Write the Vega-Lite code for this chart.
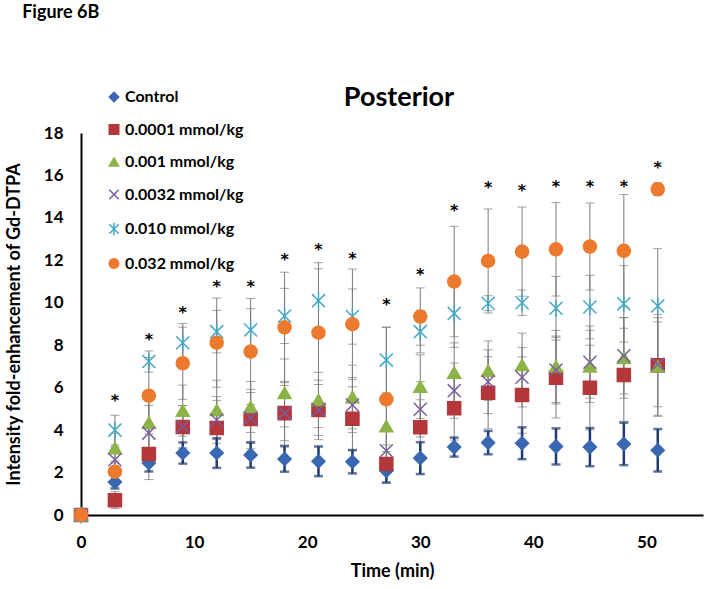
{
  "$schema": "https://vega.github.io/schema/vega-lite/v6.json",
  "width": 622,
  "height": 382,
  "autosize": "none",
  "padding": {"left": 81, "top": 133, "right": 8, "bottom": 74},
  "background": "white",
  "config": {
    "font": "Lato",
    "view": {"stroke": null},
    "axis": {"domainColor": "black", "domainWidth": 2, "ticks": false, "grid": false, "labelFont": "Lato", "labelFontSize": 17, "labelFontWeight": "bold", "labelColor": "black", "titleFont": "Lato", "titleFontSize": 18, "titleFontWeight": "bold", "titleColor": "black"},
    "axisX": {"labelPadding": 19, "titlePadding": 12, "labelFlush": false},
    "axisY": {"labelPadding": 18, "titlePadding": 20}
  },
  "title": {"text": "Posterior", "font": "Lato", "fontSize": 27, "fontWeight": "bold", "color": "black", "anchor": "middle", "dx": 7, "offset": -108},
  "datasets": {
    "pts": [
      {"series": "Control", "t": 0, "mean": 0, "sd": 0},
      {"series": "Control", "t": 3, "mean": 1.55, "sd": 0.3},
      {"series": "Control", "t": 6, "mean": 2.45, "sd": 0.4},
      {"series": "Control", "t": 9, "mean": 2.92, "sd": 0.5},
      {"series": "Control", "t": 12, "mean": 2.92, "sd": 0.7},
      {"series": "Control", "t": 15, "mean": 2.83, "sd": 0.6},
      {"series": "Control", "t": 18, "mean": 2.64, "sd": 0.6},
      {"series": "Control", "t": 21, "mean": 2.53, "sd": 0.7},
      {"series": "Control", "t": 24, "mean": 2.51, "sd": 0.55},
      {"series": "Control", "t": 27, "mean": 2.08, "sd": 0.55},
      {"series": "Control", "t": 30, "mean": 2.68, "sd": 0.75},
      {"series": "Control", "t": 33, "mean": 3.2, "sd": 0.45},
      {"series": "Control", "t": 36, "mean": 3.41, "sd": 0.55},
      {"series": "Control", "t": 39, "mean": 3.38, "sd": 0.75},
      {"series": "Control", "t": 42, "mean": 3.23, "sd": 0.85},
      {"series": "Control", "t": 45, "mean": 3.2, "sd": 0.9},
      {"series": "Control", "t": 48, "mean": 3.35, "sd": 1.0},
      {"series": "Control", "t": 51, "mean": 3.05, "sd": 1.0},
      {"series": "0.0001 mmol/kg", "t": 0, "mean": 0, "sd": 0},
      {"series": "0.0001 mmol/kg", "t": 3, "mean": 0.7, "sd": 0.4},
      {"series": "0.0001 mmol/kg", "t": 6, "mean": 2.87, "sd": 1.2},
      {"series": "0.0001 mmol/kg", "t": 9, "mean": 4.15, "sd": 1.0},
      {"series": "0.0001 mmol/kg", "t": 12, "mean": 4.1, "sd": 1.3},
      {"series": "0.0001 mmol/kg", "t": 15, "mean": 4.52, "sd": 1.4},
      {"series": "0.0001 mmol/kg", "t": 18, "mean": 4.8, "sd": 1.5},
      {"series": "0.0001 mmol/kg", "t": 21, "mean": 4.95, "sd": 1.4},
      {"series": "0.0001 mmol/kg", "t": 24, "mean": 4.54, "sd": 1.5},
      {"series": "0.0001 mmol/kg", "t": 27, "mean": 2.4, "sd": 0.9},
      {"series": "0.0001 mmol/kg", "t": 30, "mean": 4.13, "sd": 1.3},
      {"series": "0.0001 mmol/kg", "t": 33, "mean": 5.03, "sd": 1.5},
      {"series": "0.0001 mmol/kg", "t": 36, "mean": 5.76, "sd": 1.7},
      {"series": "0.0001 mmol/kg", "t": 39, "mean": 5.65, "sd": 1.8},
      {"series": "0.0001 mmol/kg", "t": 42, "mean": 6.47, "sd": 1.9},
      {"series": "0.0001 mmol/kg", "t": 45, "mean": 6.0, "sd": 2.0},
      {"series": "0.0001 mmol/kg", "t": 48, "mean": 6.6, "sd": 2.2},
      {"series": "0.0001 mmol/kg", "t": 51, "mean": 7.05, "sd": 2.4},
      {"series": "0.001 mmol/kg", "t": 0, "mean": 0, "sd": 0},
      {"series": "0.001 mmol/kg", "t": 3, "mean": 3.15, "sd": 0.7},
      {"series": "0.001 mmol/kg", "t": 6, "mean": 4.35, "sd": 1.5},
      {"series": "0.001 mmol/kg", "t": 9, "mean": 4.92, "sd": 1.2},
      {"series": "0.001 mmol/kg", "t": 12, "mean": 4.95, "sd": 1.4},
      {"series": "0.001 mmol/kg", "t": 15, "mean": 5.09, "sd": 1.2},
      {"series": "0.001 mmol/kg", "t": 18, "mean": 5.75, "sd": 1.6},
      {"series": "0.001 mmol/kg", "t": 21, "mean": 5.42, "sd": 1.3},
      {"series": "0.001 mmol/kg", "t": 24, "mean": 5.56, "sd": 1.5},
      {"series": "0.001 mmol/kg", "t": 27, "mean": 4.19, "sd": 1.2},
      {"series": "0.001 mmol/kg", "t": 30, "mean": 6.05, "sd": 1.5},
      {"series": "0.001 mmol/kg", "t": 33, "mean": 6.71, "sd": 1.4},
      {"series": "0.001 mmol/kg", "t": 36, "mean": 6.8, "sd": 1.4},
      {"series": "0.001 mmol/kg", "t": 39, "mean": 7.07, "sd": 1.5},
      {"series": "0.001 mmol/kg", "t": 42, "mean": 7.0, "sd": 1.7},
      {"series": "0.001 mmol/kg", "t": 45, "mean": 7.0, "sd": 1.7},
      {"series": "0.001 mmol/kg", "t": 48, "mean": 7.4, "sd": 1.9},
      {"series": "0.001 mmol/kg", "t": 51, "mean": 7.0, "sd": 2.3},
      {"series": "0.0032 mmol/kg", "t": 0, "mean": 0, "sd": 0},
      {"series": "0.0032 mmol/kg", "t": 3, "mean": 2.6, "sd": 0.6},
      {"series": "0.0032 mmol/kg", "t": 6, "mean": 3.86, "sd": 1.3},
      {"series": "0.0032 mmol/kg", "t": 9, "mean": 4.16, "sd": 1.0},
      {"series": "0.0032 mmol/kg", "t": 12, "mean": 4.48, "sd": 1.1},
      {"series": "0.0032 mmol/kg", "t": 15, "mean": 4.57, "sd": 1.2},
      {"series": "0.0032 mmol/kg", "t": 18, "mean": 4.8, "sd": 1.3},
      {"series": "0.0032 mmol/kg", "t": 21, "mean": 4.95, "sd": 1.2},
      {"series": "0.0032 mmol/kg", "t": 24, "mean": 5.18, "sd": 1.3},
      {"series": "0.0032 mmol/kg", "t": 27, "mean": 3.03, "sd": 1.0},
      {"series": "0.0032 mmol/kg", "t": 30, "mean": 4.98, "sd": 1.3},
      {"series": "0.0032 mmol/kg", "t": 33, "mean": 5.86, "sd": 1.3},
      {"series": "0.0032 mmol/kg", "t": 36, "mean": 6.28, "sd": 1.5},
      {"series": "0.0032 mmol/kg", "t": 39, "mean": 6.49, "sd": 1.4},
      {"series": "0.0032 mmol/kg", "t": 42, "mean": 6.83, "sd": 1.6},
      {"series": "0.0032 mmol/kg", "t": 45, "mean": 7.2, "sd": 1.7},
      {"series": "0.0032 mmol/kg", "t": 48, "mean": 7.5, "sd": 1.8},
      {"series": "0.0032 mmol/kg", "t": 51, "mean": 7.1, "sd": 2.0},
      {"series": "0.010 mmol/kg", "t": 0, "mean": 0, "sd": 0},
      {"series": "0.010 mmol/kg", "t": 3, "mean": 4.0, "sd": 0.7},
      {"series": "0.010 mmol/kg", "t": 6, "mean": 7.23, "sd": 0.5},
      {"series": "0.010 mmol/kg", "t": 9, "mean": 8.12, "sd": 0.9},
      {"series": "0.010 mmol/kg", "t": 12, "mean": 8.64, "sd": 1.0},
      {"series": "0.010 mmol/kg", "t": 15, "mean": 8.72, "sd": 1.0},
      {"series": "0.010 mmol/kg", "t": 18, "mean": 9.38, "sd": 1.3},
      {"series": "0.010 mmol/kg", "t": 21, "mean": 10.1, "sd": 1.5},
      {"series": "0.010 mmol/kg", "t": 24, "mean": 9.35, "sd": 1.3},
      {"series": "0.010 mmol/kg", "t": 27, "mean": 7.3, "sd": 1.55},
      {"series": "0.010 mmol/kg", "t": 30, "mean": 8.64, "sd": 1.0},
      {"series": "0.010 mmol/kg", "t": 33, "mean": 9.5, "sd": 1.6},
      {"series": "0.010 mmol/kg", "t": 36, "mean": 9.98, "sd": 0.35},
      {"series": "0.010 mmol/kg", "t": 39, "mean": 10.0, "sd": 0.6},
      {"series": "0.010 mmol/kg", "t": 42, "mean": 9.74, "sd": 1.5},
      {"series": "0.010 mmol/kg", "t": 45, "mean": 9.8, "sd": 1.5},
      {"series": "0.010 mmol/kg", "t": 48, "mean": 9.95, "sd": 1.8},
      {"series": "0.010 mmol/kg", "t": 51, "mean": 9.85, "sd": 2.7},
      {"series": "0.032 mmol/kg", "t": 0, "mean": 0, "sd": 0},
      {"series": "0.032 mmol/kg", "t": 3, "mean": 2.04, "sd": 0.5},
      {"series": "0.032 mmol/kg", "t": 6, "mean": 5.62, "sd": 1.8},
      {"series": "0.032 mmol/kg", "t": 9, "mean": 7.15, "sd": 1.7},
      {"series": "0.032 mmol/kg", "t": 12, "mean": 8.12, "sd": 2.1},
      {"series": "0.032 mmol/kg", "t": 15, "mean": 7.7, "sd": 2.5},
      {"series": "0.032 mmol/kg", "t": 18, "mean": 8.84, "sd": 2.6},
      {"series": "0.032 mmol/kg", "t": 21, "mean": 8.59, "sd": 3.3},
      {"series": "0.032 mmol/kg", "t": 24, "mean": 8.99, "sd": 2.6},
      {"series": "0.032 mmol/kg", "t": 27, "mean": 5.45, "sd": 3.4},
      {"series": "0.032 mmol/kg", "t": 30, "mean": 9.35, "sd": 1.35},
      {"series": "0.032 mmol/kg", "t": 33, "mean": 11.0, "sd": 2.6},
      {"series": "0.032 mmol/kg", "t": 36, "mean": 11.97, "sd": 2.45},
      {"series": "0.032 mmol/kg", "t": 39, "mean": 12.41, "sd": 2.1},
      {"series": "0.032 mmol/kg", "t": 42, "mean": 12.52, "sd": 2.2},
      {"series": "0.032 mmol/kg", "t": 45, "mean": 12.65, "sd": 2.05},
      {"series": "0.032 mmol/kg", "t": 48, "mean": 12.45, "sd": 2.65},
      {"series": "0.032 mmol/kg", "t": 51, "mean": 15.35, "sd": 0.3}
    ],
    "stars": [
      {"t": 3, "level": 5.5}, {"t": 6, "level": 8.4}, {"t": 9, "level": 9.66},
      {"t": 12, "level": 10.9}, {"t": 15, "level": 10.9}, {"t": 18, "level": 12.15},
      {"t": 21, "level": 12.64}, {"t": 24, "level": 12.2}, {"t": 27, "level": 10.05},
      {"t": 30, "level": 11.47}, {"t": 33, "level": 14.45}, {"t": 36, "level": 15.55},
      {"t": 39, "level": 15.42}, {"t": 42, "level": 15.6}, {"t": 45, "level": 15.6},
      {"t": 48, "level": 15.6}, {"t": 51, "level": 16.5}
    ]
  },
  "layer": [
    {
      "data": {"name": "pts"},
      "transform": [{"filter": "datum.series !== 'Control'"}],
      "mark": {"type": "errorbar", "ticks": true, "size": 9, "thickness": 1, "color": "#7a7a7a"},
      "encoding": {
        "x": {"field": "t", "type": "quantitative", "scale": {"domain": [0, 55], "nice": false}, "axis": {"values": [0, 10, 20, 30, 40, 50], "title": "Time (min)"}},
        "y": {"field": "mean", "type": "quantitative", "scale": {"domain": [0, 18], "nice": false}, "axis": {"values": [0, 2, 4, 6, 8, 10, 12, 14, 16, 18], "title": "Intensity fold-enhancement of Gd-DTPA"}},
        "yError": {"field": "sd"}
      }
    },
    {
      "data": {"name": "pts"},
      "transform": [{"filter": "datum.series === 'Control'"}],
      "mark": {"type": "errorbar", "ticks": true, "size": 9, "thickness": 2.5, "color": "#1f3a72"},
      "encoding": {
        "x": {"field": "t", "type": "quantitative", "axis": {"values": [0, 10, 20, 30, 40, 50], "title": "Time (min)"}},
        "y": {"field": "mean", "type": "quantitative", "axis": {"values": [0, 2, 4, 6, 8, 10, 12, 14, 16, 18], "title": "Intensity fold-enhancement of Gd-DTPA"}},
        "yError": {"field": "sd"}
      }
    },
    {
      "data": {"name": "pts"},
      "mark": {"type": "point", "size": 170, "strokeWidth": 1.5, "opacity": 1},
      "encoding": {
        "x": {"field": "t", "type": "quantitative", "axis": {"values": [0, 10, 20, 30, 40, 50], "title": "Time (min)"}},
        "y": {"field": "mean", "type": "quantitative", "axis": {"values": [0, 2, 4, 6, 8, 10, 12, 14, 16, 18], "title": "Intensity fold-enhancement of Gd-DTPA"}},
        "shape": {"field": "series", "type": "nominal", "scale": {"domain": ["Control", "0.0001 mmol/kg", "0.001 mmol/kg", "0.0032 mmol/kg", "0.010 mmol/kg", "0.032 mmol/kg"], "range": ["diamond", "square", "triangle-up", "M-1,-1L1,1M-1,1L1,-1", "M-1,-1L1,1M-1,1L1,-1M0,-1.3L0,1.3", "circle"]}, "legend": {"title": null, "orient": "none", "legendX": 25, "legendY": -44, "labelFont": "Lato", "labelFontSize": 16, "labelFontWeight": "bold", "labelColor": "black", "rowPadding": 16.5, "symbolSize": 90, "symbolStrokeWidth": 1.5, "labelOffset": 3}},
        "fill": {"field": "series", "type": "nominal", "scale": {"domain": ["Control", "0.0001 mmol/kg", "0.001 mmol/kg", "0.0032 mmol/kg", "0.010 mmol/kg", "0.032 mmol/kg"], "range": ["#3a67b1", "#b3373b", "#8db347", "transparent", "transparent", "#ec7a2e"]}, "legend": {"title": null, "orient": "none", "legendX": 25, "legendY": -44, "labelFont": "Lato", "labelFontSize": 16, "labelFontWeight": "bold", "labelColor": "black", "rowPadding": 16.5, "symbolSize": 90, "symbolStrokeWidth": 1.5, "labelOffset": 3}},
        "stroke": {"field": "series", "type": "nominal", "scale": {"domain": ["Control", "0.0001 mmol/kg", "0.001 mmol/kg", "0.0032 mmol/kg", "0.010 mmol/kg", "0.032 mmol/kg"], "range": ["#3a67b1", "#b3373b", "#8db347", "#7a5ca0", "#43a8c4", "#ec7a2e"]}, "legend": {"title": null, "orient": "none", "legendX": 25, "legendY": -44, "labelFont": "Lato", "labelFontSize": 16, "labelFontWeight": "bold", "labelColor": "black", "rowPadding": 16.5, "symbolSize": 90, "symbolStrokeWidth": 1.5, "labelOffset": 3}}
      }
    },
    {
      "data": {"name": "stars"},
      "mark": {"type": "text", "text": "*", "font": "DejaVu Sans", "fontSize": 16, "fontWeight": "bold", "color": "black", "baseline": "middle", "dy": 3},
      "encoding": {
        "x": {"field": "t", "type": "quantitative"},
        "y": {"field": "level", "type": "quantitative"}
      }
    },
    {
      "data": {"values": [{"label": "Figure 6B"}]},
      "mark": {"type": "text", "font": "Lato", "fontSize": 18, "fontWeight": "bold", "color": "black", "align": "left", "baseline": "middle"},
      "encoding": {
        "text": {"field": "label"},
        "x": {"datum": -5.2, "type": "quantitative"},
        "y": {"datum": 23.65, "type": "quantitative"}
      }
    }
  ]
}
